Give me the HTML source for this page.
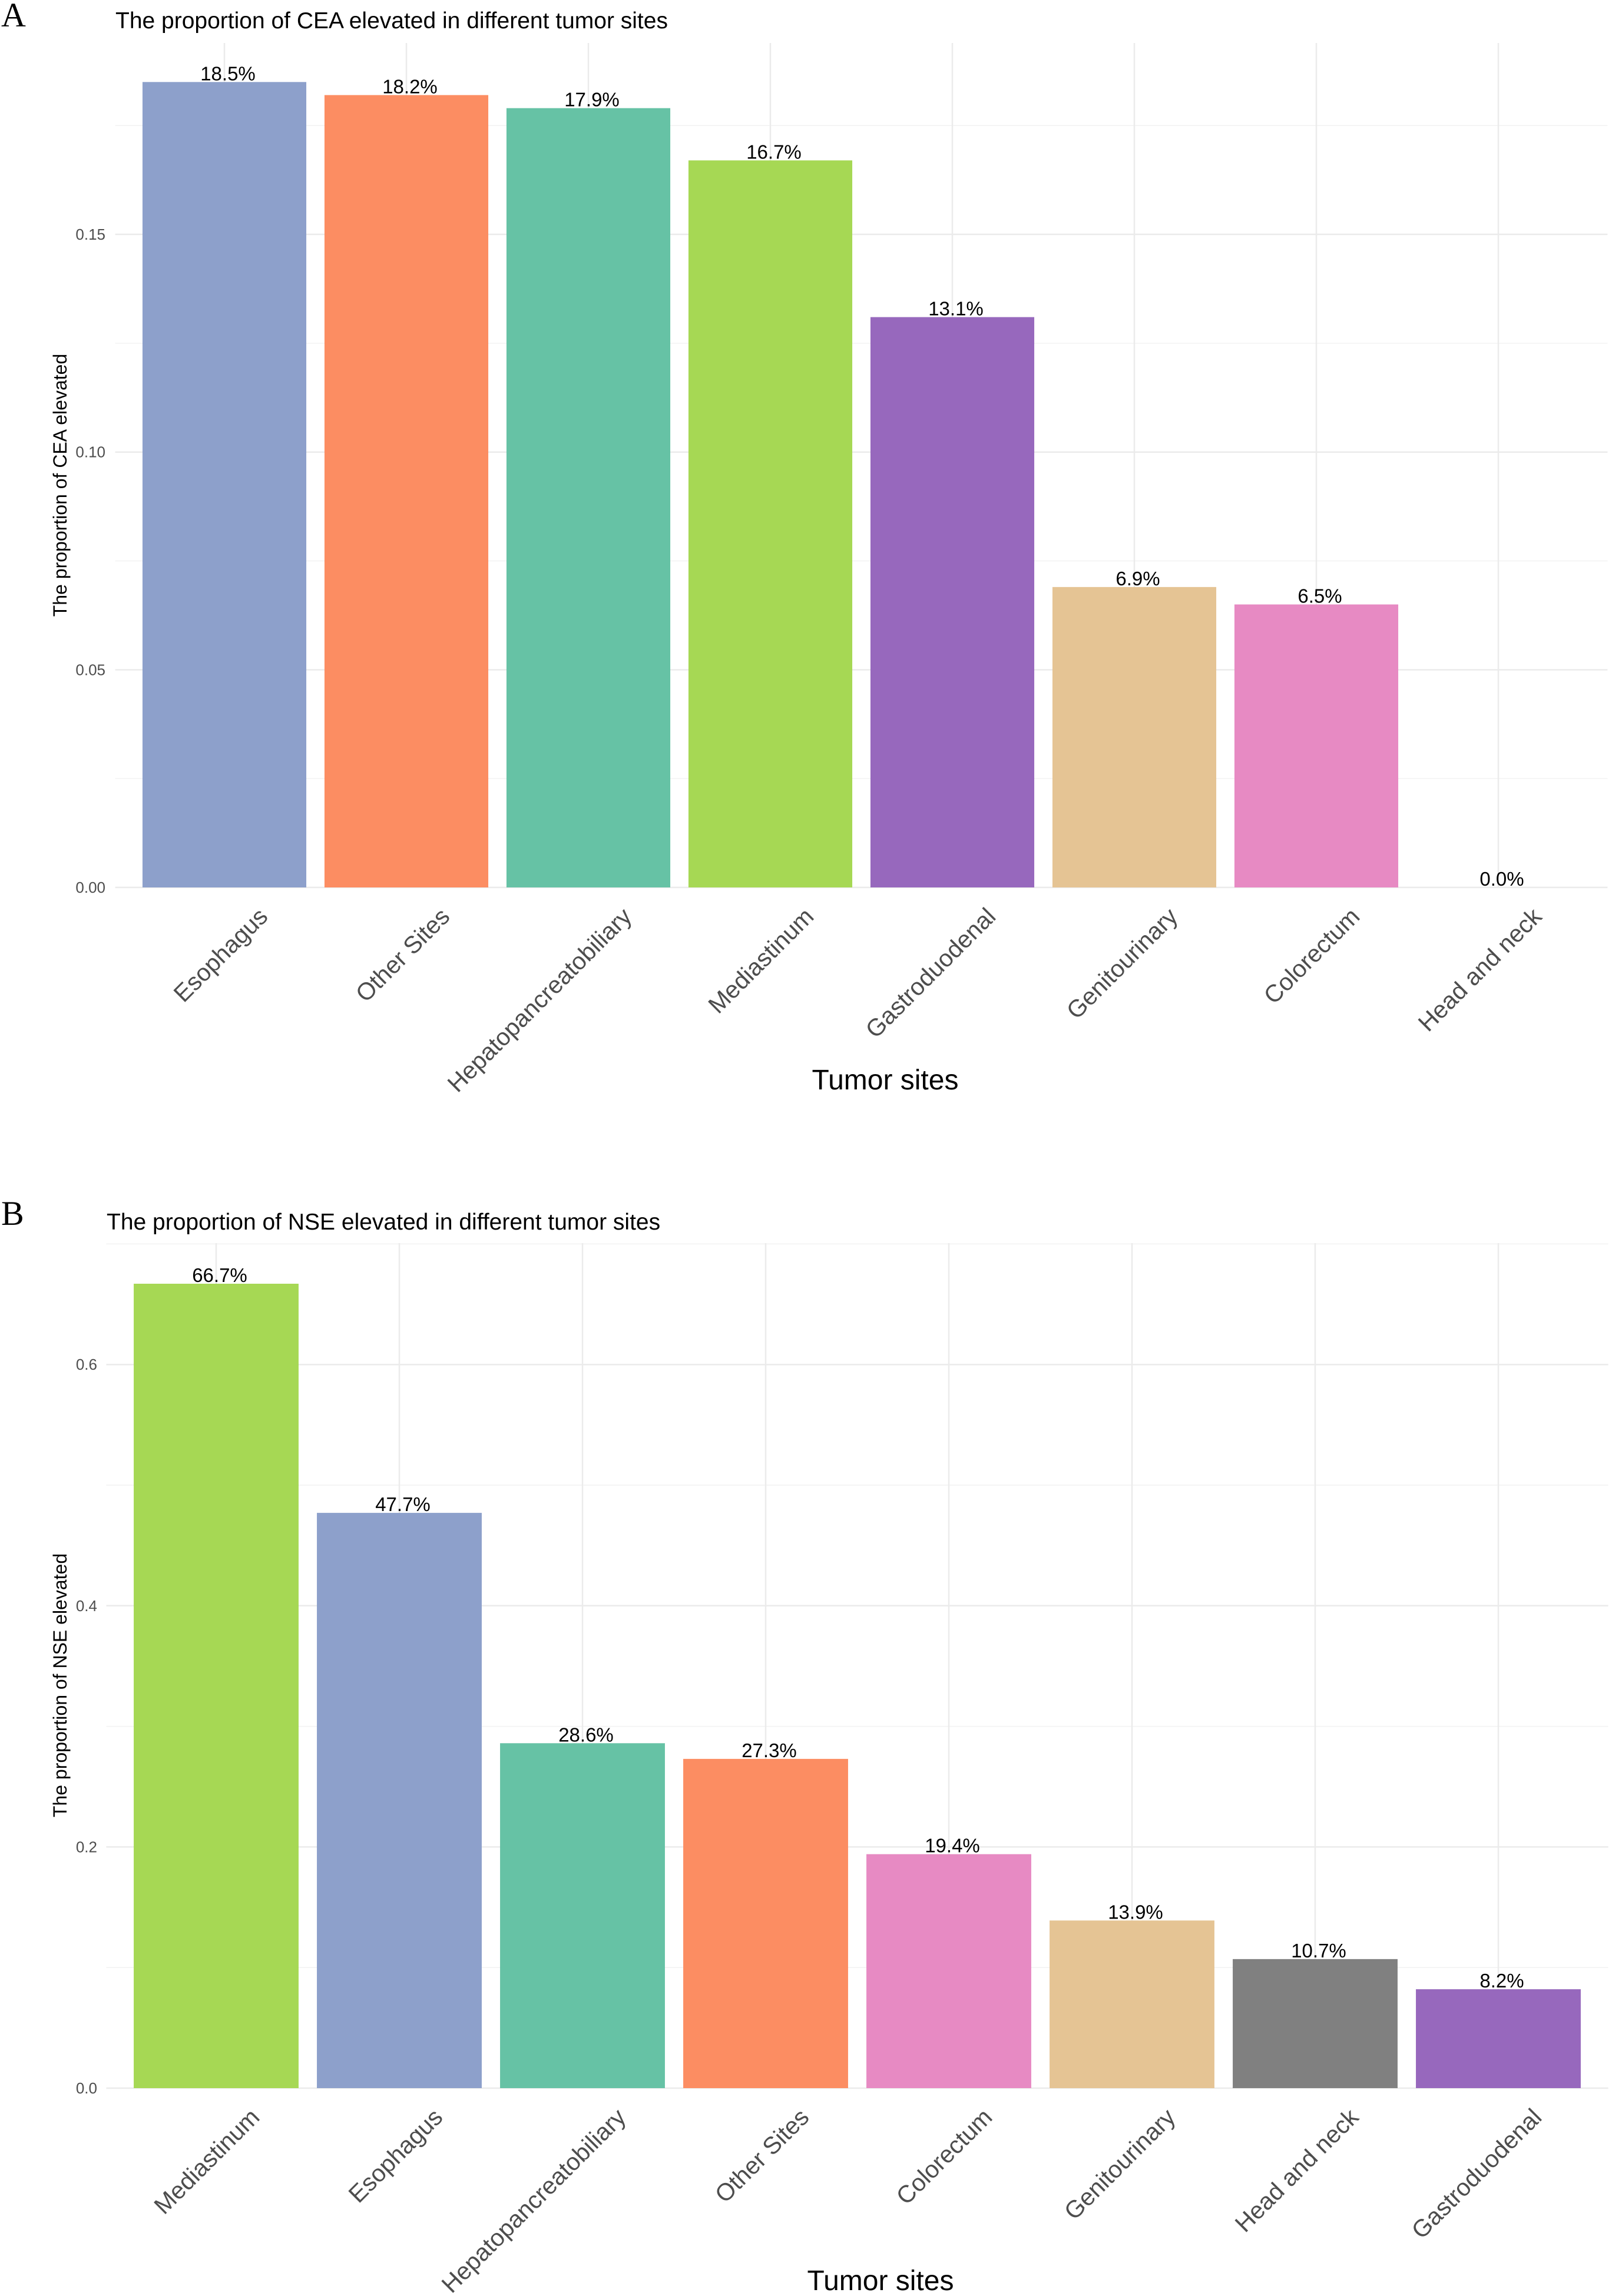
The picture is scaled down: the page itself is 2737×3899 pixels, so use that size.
<!DOCTYPE html>
<html><head><meta charset="utf-8">
<style>
html,body{margin:0;padding:0;background:#fff;}
svg{display:block;font-family:"Liberation Sans",sans-serif;}
</style></head>
<body>
<svg id="fig" width="2737" height="3899" viewBox="0 0 2737 3899" xmlns="http://www.w3.org/2000/svg">
<rect width="2737" height="3899" fill="#fff"/>
<g id="chartA"></g>
<g id="chartB"></g>
</svg>
<script>
const ceaCategories = ["Esophagus","Other Sites","Hepatopancreatobiliary","Mediastinum","Gastroduodenal","Genitourinary","Colorectum","Head and neck"];
const ceaValues = [0.185,0.182,0.179,0.167,0.131,0.069,0.065,0.0];
const ceaLabels = ["18.5%","18.2%","17.9%","16.7%","13.1%","6.9%","6.5%","0.0%"];
const ceaColors = ["#8da0cb","#fc8d62","#66c2a5","#a6d854","#9768bd","#e5c494","#e78ac3","#808080"];
const ceaTicks = [0,0.05,0.10,0.15];
const ceaTickLabels = ["0.00","0.05","0.10","0.15"];

const nseCategories = ["Mediastinum","Esophagus","Hepatopancreatobiliary","Other Sites","Colorectum","Genitourinary","Head and neck","Gastroduodenal"];
const nseValues = [0.667,0.477,0.286,0.273,0.194,0.139,0.107,0.082];
const nseLabels = ["66.7%","47.7%","28.6%","27.3%","19.4%","13.9%","10.7%","8.2%"];
const nseColors = ["#a6d854","#8da0cb","#66c2a5","#fc8d62","#e78ac3","#e5c494","#808080","#9768bd"];
const nseTicks = [0,0.2,0.4,0.6];
const nseTickLabels = ["0.0","0.2","0.4","0.6"];

const NS = "http://www.w3.org/2000/svg";
function mk(parent, tag, attrs, text){
  const e = document.createElementNS(NS, tag);
  for (const k in attrs) e.setAttribute(k, attrs[k]);
  if (text !== undefined) e.textContent = text;
  parent.appendChild(e);
  return e;
}

function drawChart(g, cfg){
  const xScale = i => cfg.x0 + cfg.step * i;
  const yScale = v => cfg.y0 - v * cfg.pxPerUnit;
  const panelTop = cfg.panelTop;
  const panelLeft = cfg.x0 - 0.6 * cfg.step;
  const panelRight = xScale(cfg.categories.length - 1) + 0.6 * cfg.step;
  for (let i = 0; i < cfg.ticks.length; i++){
    const mv = cfg.ticks[i] + (cfg.ticks[1] - cfg.ticks[0]) / 2;
    const my = yScale(mv);
    if (my < panelTop) continue;
    const l = mk(g, "line", {x1: panelLeft, x2: panelRight, y1: my, y2: my, stroke: "#f2f2f2", "stroke-width": 1.5});
    
    
  }
  cfg.ticks.forEach((t, i) => {
    const y = yScale(t);
    const l = mk(g, "line", {x1: panelLeft, x2: panelRight, y1: y, y2: y, stroke: "#ebebeb", "stroke-width": 2.5});
    
    
    const tx = mk(g, "text", {x: cfg.tickRight, y: y + 9, "text-anchor": "end", "font-size": 26, fill: "#4d4d4d"}, cfg.tickLabels[i]);
    
    
  });
  cfg.categories.forEach((c, i) => {
    const x = xScale(i);
    const l = mk(g, "line", {x1: x, x2: x, y1: panelTop, y2: cfg.y0, stroke: "#ebebeb", "stroke-width": 2.5});
    
    
  });
  const bw = cfg.step * 0.9;
  cfg.categories.forEach((c, i) => {
    const x = xScale(i) - bw / 2;
    const v = cfg.values[i];
    const yt = yScale(v);
    const b = mk(g, "rect", {x: x, y: yt, width: bw, height: Math.max(0, cfg.y0 - yt), fill: cfg.colors[i]});
    
    
    const lb = mk(g, "text", {x: xScale(i) + 6, y: yt - 3, "text-anchor": "middle", "font-size": 33, fill: "#000"}, cfg.labels[i]);
    
    
    const ax = xScale(i) + 76, ay = cfg.y0 + 52;
    const xl = mk(g, "text", {x: ax, y: ay, "text-anchor": "end", "font-size": 41, fill: "#4d4d4d", transform: "rotate(-45 " + ax + " " + ay + ")"}, c);
    
    
  });
  const t = mk(g, "text", {x: cfg.titleX, y: cfg.titleY, "font-size": 39, fill: "#000"}, cfg.title);
  
  
  const pl = mk(g, "text", {x: 2, y: cfg.panelLabelY, "font-size": 58, fill: "#000", "font-family": "Liberation Serif, serif"}, cfg.panelLabel);
  
  
  const yt = mk(g, "text", {x: 0, y: 0, "text-anchor": "middle", "font-size": 32, fill: "#000", transform: "translate(" + (cfg.yTitleX) + " " + cfg.yTitleY + ") rotate(-90)"}, cfg.yTitle);
  
  
  const xt = mk(g, "text", {x: cfg.xTitleX, y: cfg.xTitleY, "text-anchor": "middle", "font-size": 48, fill: "#000"}, "Tumor sites");
  
  
}

drawChart(document.getElementById("chartA"), {
  categories: ceaCategories, values: ceaValues, labels: ceaLabels, colors: ceaColors,
  ticks: ceaTicks, tickLabels: ceaTickLabels,
  x0: 381, step: 309, y0: 1507, pxPerUnit: 7393, panelTop: 73, tickRight: 179,
  title: "The proportion of CEA elevated in different tumor sites", titleX: 196, titleY: 48,
  panelLabel: "A", panelLabelY: 45,
  yTitle: "The proportion of CEA elevated", yTitleX: 113, yTitleY: 824,
  xTitleX: 1503, xTitleY: 1850
});
drawChart(document.getElementById("chartB"), {
  categories: nseCategories, values: nseValues, labels: nseLabels, colors: nseColors,
  ticks: nseTicks, tickLabels: nseTickLabels,
  x0: 367, step: 311, y0: 3546, pxPerUnit: 2048, panelTop: 2111, tickRight: 165,
  title: "The proportion of NSE elevated in different tumor sites", titleX: 181, titleY: 2088,
  panelLabel: "B", panelLabelY: 2080,
  yTitle: "The proportion of NSE elevated", yTitleX: 113, yTitleY: 2862,
  xTitleX: 1495, xTitleY: 3889
});
</script>
</body></html>
